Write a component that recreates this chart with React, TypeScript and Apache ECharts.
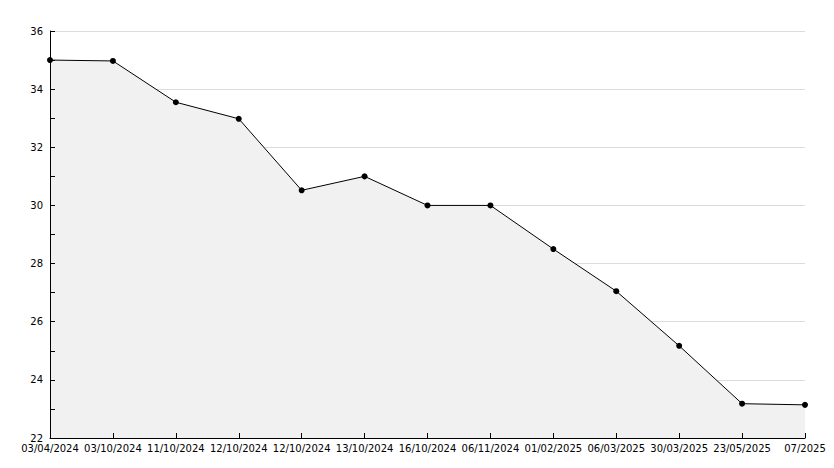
import React, { useEffect, useRef } from "react";
import * as echarts from "echarts";

const categories = [
  "03/04/2024", "03/10/2024", "11/10/2024", "12/10/2024", "12/10/2024",
  "13/10/2024", "16/10/2024", "06/11/2024", "01/02/2025", "06/03/2025",
  "30/03/2025", "23/05/2025", "07/2025",
];
const values = [35.0, 34.97, 33.55, 32.98, 30.52, 31.0, 30.0, 30.0, 28.5, 27.05, 25.17, 23.18, 23.14];
const yMin = 22;
const yMax = 36;

export default function App() {
  const ref = useRef<HTMLDivElement>(null);
  useEffect(() => {
    if (!ref.current) return;
    const chart = echarts.init(ref.current, undefined, { renderer: "svg" });
    chart.setOption({
      animation: false,
      backgroundColor: "#ffffff",
      grid: { left: 50, right: 29, top: 31, bottom: 30, containLabel: false },
      textStyle: { fontFamily: "DejaVu Sans" },
      xAxis: {
        type: "category",
        data: categories,
        boundaryGap: false,
        z: 10,
        axisLine: { show: true, lineStyle: { color: "#000", width: 1 } },
        axisTick: { show: true, inside: true, length: 5, lineStyle: { color: "#000" } },
        axisLabel: { color: "#000", fontSize: 10, fontFamily: "DejaVu Sans", margin: 5, interval: 0 },
        splitLine: { show: false },
      },
      yAxis: [
        {
          type: "value",
          min: yMin,
          max: yMax,
          interval: 2,
          z: 0,
          axisLine: { show: false },
          axisTick: { show: false },
          axisLabel: { show: false },
          splitLine: { show: true, lineStyle: { color: "#dcdcdc", width: 1 } },
        },
        {
          type: "value",
          position: "left",
          min: yMin,
          max: yMax,
          interval: 2,
          z: 10,
          axisLine: { show: true, lineStyle: { color: "#000", width: 1 } },
          axisTick: { show: true, inside: true, length: 5, lineStyle: { color: "#000" } },
          minorTick: { show: true, splitNumber: 2, length: 5, lineStyle: { color: "#000" } },
          axisLabel: { color: "#000", fontSize: 10, fontFamily: "DejaVu Sans", margin: 7 },
          splitLine: { show: false },
        },
      ],
      series: [
        {
          type: "line",
          data: values,
          yAxisIndex: 0,
          symbol: "circle",
          symbolSize: 6,
          itemStyle: { color: "#000" },
          lineStyle: { color: "#000", width: 1 },
          areaStyle: { color: "#f1f1f1", opacity: 1 },
          z: 3,
        },
      ],
    });
    return () => chart.dispose();
  }, []);
  return (
    <div
      ref={ref}
      style={{ position: "fixed", left: 0, top: 0, width: 834, height: 468 }}
    />
  );
}
